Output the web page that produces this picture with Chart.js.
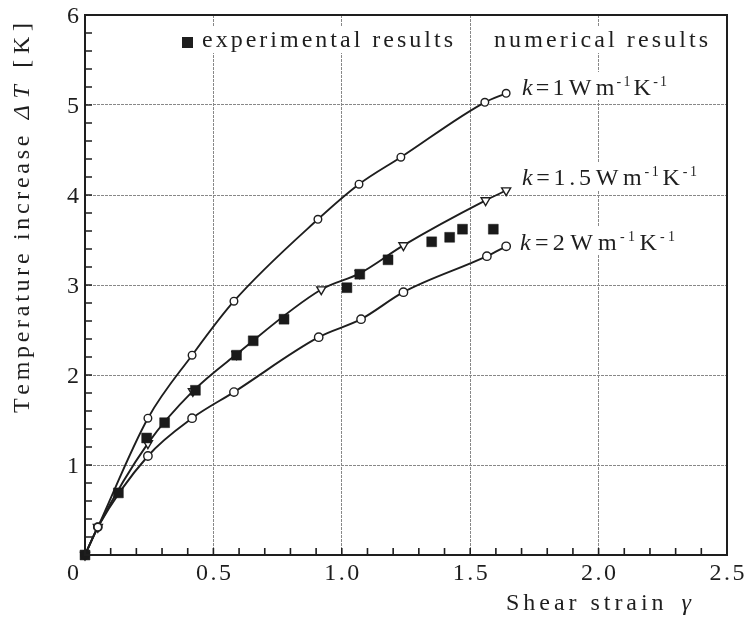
<!DOCTYPE html>
<html>
<head>
<meta charset="utf-8">
<script src="https://cdn.jsdelivr.net/npm/chart.js@4"></script>
<style>
html,body{margin:0;padding:0;background:#fff;}
#wrap{width:744px;height:619px;}
</style>
</head>
<body>
<div id="wrap"><canvas id="c" width="744" height="619"></canvas></div>
<script>
// ---- data ----
const strainK1   = [0, 0.05, 0.245, 0.417, 0.58, 0.907, 1.067, 1.23, 1.557, 1.64];
const tempK1     = [0, 0.31, 1.52, 2.22, 2.82, 3.73, 4.12, 4.42, 5.03, 5.13];
const strainK15  = [0, 0.05, 0.245, 0.42, 0.59, 0.92, 1.07, 1.24, 1.56, 1.64];
const tempK15    = [0, 0.31, 1.24, 1.82, 2.23, 2.95, 3.13, 3.44, 3.94, 4.05];
const strainK2   = [0, 0.05, 0.245, 0.417, 0.58, 0.91, 1.075, 1.24, 1.565, 1.64];
const tempK2     = [0, 0.31, 1.10, 1.52, 1.81, 2.42, 2.62, 2.92, 3.32, 3.43];
const strainExp  = [0, 0.13, 0.24, 0.31, 0.43, 0.59, 0.655, 0.775, 1.02, 1.07, 1.18, 1.35, 1.42, 1.47, 1.59];
const tempExp    = [0, 0.69, 1.30, 1.47, 1.83, 2.22, 2.38, 2.62, 2.97, 3.12, 3.28, 3.48, 3.53, 3.62, 3.62];
const xTickLabels = ['0.5', '1.0', '1.5', '2.0', '2.5'];
const yTickLabels = ['1', '2', '3', '4', '5', '6'];
const headerExp = 'experimental results';
const headerNum = 'numerical results';
const xTitle = 'Shear strain ';
const yTitle = 'Temperature increase ';

const pts = (xs, ys) => xs.map((x, i) => ({x, y: ys[i]}));
const INK = '#1e1e1e';
const SERIF = '"Liberation Serif","Times New Roman","DejaVu Serif",serif';

function drawRich(ctx, parts, x, y, target, align) {
  const chars = [];
  parts.forEach(p => { for (const ch of p.t) chars.push({ch, font: p.font, dy: p.dy || 0, gap: p.gap || 0}); });
  let nat = 0;
  chars.forEach(c => { ctx.font = c.font; c.w = ctx.measureText(c.ch).width; nat += c.w + c.gap; });
  const sp = target && chars.length > 1 ? (target - nat) / (chars.length - 1) : 0;
  const total = target || nat;
  let cx = align === 'center' ? x - total / 2 : (align === 'right' ? x - total : x);
  chars.forEach(c => {
    ctx.font = c.font;
    cx += c.gap;
    ctx.fillText(c.ch, cx, y + c.dy);
    cx += c.w + sp;
  });
}

const decor = {
  id: 'decor',
  beforeDatasetsDraw(chart) {
    const ctx = chart.ctx;
    ctx.save();
    ctx.fillStyle = '#fff';
    ctx.fillRect(178, 27, 280, 26);
    ctx.fillRect(490, 27, 222, 26);
    ctx.fillRect(518, 72, 152, 28);
    ctx.fillRect(518, 162, 182, 28);
    ctx.fillRect(516, 226, 162, 28);
    ctx.restore();
  },
  afterDraw(chart) {
    const ctx = chart.ctx;
    const xs = chart.scales.x, ys = chart.scales.y;
    const ca = chart.chartArea;
    ctx.save();
    ctx.strokeStyle = INK;
    ctx.lineWidth = 2;
    ctx.strokeRect(ca.left, ca.top, ca.right - ca.left, ca.bottom - ca.top);
    ctx.lineWidth = 1.6;
    ctx.beginPath();
    for (let i = 1; i < 25; i++) {
      const px = xs.getPixelForValue(i / 10);
      ctx.moveTo(px, ca.bottom); ctx.lineTo(px, ca.bottom - 7);
    }
    for (let i = 1; i < 30; i++) {
      const py = ys.getPixelForValue(i / 5);
      ctx.moveTo(ca.left, py); ctx.lineTo(ca.left + 7, py);
    }
    ctx.stroke();

    ctx.fillStyle = INK;
    ctx.textBaseline = 'alphabetic';
    const f24 = '24px ' + SERIF;
    const i24 = 'italic 24px ' + SERIF;
    const s14 = '14px ' + SERIF;
    xTickLabels.forEach(t => {
      const px = xs.getPixelForValue(parseFloat(t));
      drawRich(ctx, [{t, font: f24}], px, 580, 35, 'center');
    });
    yTickLabels.forEach(t => {
      const py = ys.getPixelForValue(parseFloat(t));
      drawRich(ctx, [{t, font: f24}], 79, py + 8, 0, 'right');
    });
    drawRich(ctx, [{t: '0', font: f24}], 79, 580, 0, 'right');

    ctx.fillRect(182, 37, 11, 11);
    drawRich(ctx, [{t: headerExp, font: f24}], 202, 47, 251, 'left');
    drawRich(ctx, [{t: headerNum, font: f24}], 494, 47, 214, 'left');

    const kLabel = (num, x, y, w) => drawRich(ctx, [
      {t: 'k', font: i24}, {t: '=', font: f24, gap: 1}, {t: num, font: f24, gap: 1},
      {t: 'Wm', font: f24, gap: 2}, {t: '-1', font: s14, dy: -9}, {t: 'K', font: f24, gap: 1}, {t: '-1', font: s14, dy: -9}
    ], x, y, w, 'left');
    kLabel('1', 522, 95, 145);
    kLabel('1.5', 522, 185, 175);
    kLabel('2', 520, 250, 155);

    drawRich(ctx, [{t: xTitle, font: f24}, {t: 'γ', font: i24, gap: 4}], 506, 610, 185, 'left');
    ctx.save();
    ctx.translate(29, 218);
    ctx.rotate(-Math.PI / 2);
    drawRich(ctx, [{t: yTitle, font: f24}, {t: 'ΔT', font: i24, gap: 3}, {t: ' [K]', font: f24, gap: 2}], 0, 0, 390, 'center');
    ctx.restore();
    ctx.restore();
  }
};

const lineDs = (label, xs, ys, style, radius, rotation) => ({
  label, data: pts(xs, ys), showLine: true, clip: false,
  borderColor: INK, borderWidth: 1.9, cubicInterpolationMode: 'monotone',
  pointStyle: style, pointRadius: radius, pointRotation: rotation || 0,
  pointBackgroundColor: '#fff', pointBorderColor: INK, pointBorderWidth: 1.4,
  pointHoverRadius: radius
});

new Chart(document.getElementById('c'), {
  type: 'scatter',
  data: {
    datasets: [
      {
        label: 'experimental', data: pts(strainExp, tempExp), showLine: false, clip: false,
        pointStyle: 'rect', pointRadius: 7, pointBackgroundColor: '#1a1a1a',
        pointBorderColor: '#1a1a1a', pointBorderWidth: 0.5, pointHoverRadius: 7
      },
      lineDs('k=1', strainK1, tempK1, 'circle', 3.8),
      lineDs('k=1.5', strainK15, tempK15, 'triangle', 5.2, 180),
      lineDs('k=2', strainK2, tempK2, 'circle', 4.2)
    ]
  },
  options: {
    responsive: false, animation: false,
    layout: {padding: {top: 15, right: 17, left: 0, bottom: 0}},
    plugins: {legend: {display: false}, tooltip: {enabled: false}},
    scales: {
      x: {
        type: 'linear', min: 0, max: 2.5,
        ticks: {stepSize: 0.5, display: false},
        grid: {color: '#888888', lineWidth: 1, drawTicks: false},
        border: {display: false, dash: [3, 1]},
        afterFit(s) { s.height = 64; }
      },
      y: {
        type: 'linear', min: 0, max: 6,
        ticks: {stepSize: 1, display: false},
        grid: {color: '#888888', lineWidth: 1, drawTicks: false},
        border: {display: false, dash: [3, 1]},
        afterFit(s) { s.width = 85; }
      }
    }
  },
  plugins: [decor]
});
</script>
</body>
</html>
